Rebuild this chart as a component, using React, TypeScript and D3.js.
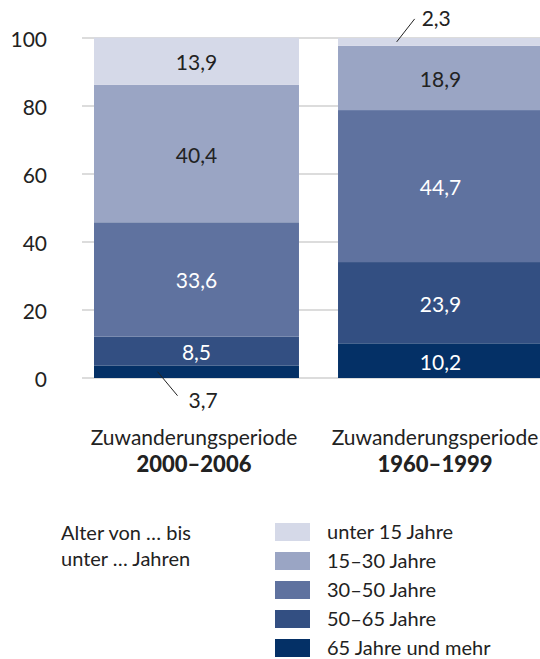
import React from "react";
import * as d3 from "d3";

const periods = ["2000–2006", "1960–1999"];
const ageGroups = ["65 Jahre und mehr", "50–65 Jahre", "30–50 Jahre", "15–30 Jahre", "unter 15 Jahre"];
// values per period, bottom to top (65+, 50-65, 30-50, 15-30, <15)
const values2000 = [3.7, 8.5, 33.6, 40.4, 13.9];
const values1960 = [10.2, 23.9, 44.7, 18.9, 2.3];
const colors = ["#043066", "#334f82", "#5f729f", "#9aa5c4", "#d5d9e8"];
const textColors = ["#fff", "#fff", "#fff", "#222", "#222"];
const yTicks = [0, 20, 40, 60, 80, 100];
const legendTitle = ["Alter von … bis", "unter … Jahren"];
const catPrefix = "Zuwanderungsperiode";

const W = 540;
const H = 659;
const FONT = "Lato, sans-serif";

export default function App() {
  const data = [values2000, values1960];
  const x = d3.scaleBand<string>().domain(periods).range([94, 543]).paddingInner(0.16).paddingOuter(0);
  const y = d3.scaleLinear().domain([0, 100]).range([378, 38]);
  const stacks = data.map((vals) => {
    let acc = 0;
    return vals.map((v) => {
      const s = { y0: acc, y1: acc + v, v };
      acc += v;
      return s;
    });
  });
  const fmt = (v: number) => v.toFixed(1).replace(".", ",");
  const bw = x.bandwidth();

  return (
    <svg width={W} height={H} style={{ position: "absolute", left: 0, top: 0 }} fontFamily={FONT}>
      <rect width={W} height={H} fill="#fff" />
      {yTicks.map((t) => (
        <g key={t}>
          <line x1={82} x2={W} y1={y(t)} y2={y(t)} stroke="#dcdcdc" strokeWidth={2} />
          <text x={47} y={y(t) + 9} textAnchor="end" fontSize={21} fill="#222">
            {t}
          </text>
        </g>
      ))}
      {periods.map((p, i) => {
        const x0 = x(p) as number;
        const labelX = Math.min(x0 + bw / 2 - 2.5, W - 105);
        return (
          <g key={p}>
            {stacks[i].map((s, j) => (
              <rect
                key={j}
                x={x0}
                width={bw}
                y={y(s.y1)}
                height={y(s.y0) - y(s.y1)}
                fill={colors[j]}
              />
            ))}
            {stacks[i].map((s, j) => {
              const cy = y((s.y0 + s.y1) / 2);
              if (s.v < 5) {
                const up = s.y0 > 50;
                const lx = x0 + bw * (up ? 0.286 : 0.31);
                const dx = up ? 18 : 20;
                const dy = up ? -23 : 24;
                return (
                  <g key={"l" + j}>
                    <line x1={lx} y1={cy} x2={lx + dx} y2={cy + dy} stroke="#222" strokeWidth={1} />
                    <text x={lx + dx + (up ? 7 : 11)} y={up ? cy + dy + 7 : cy + dy + 12} fontSize={21} fill="#222">
                      {fmt(s.v)}
                    </text>
                  </g>
                );
              }
              return (
                <text key={"t" + j} x={x0 + bw / 2} y={cy + 9} textAnchor="middle" fontSize={21} fill={textColors[j]}>
                  {fmt(s.v)}
                </text>
              );
            })}
            <text x={labelX} y={444.5} textAnchor="middle" fontSize={21} fill="#222">
              {catPrefix}
            </text>
            <text x={labelX} y={471.5} textAnchor="middle" fontSize={22} fontWeight={900} fill="#222">
              {p}
            </text>
          </g>
        );
      })}
      {legendTitle.map((l, i) => (
        <text key={l} x={61} y={540 + i * 26} fontSize={20} fill="#222">
          {l}
        </text>
      ))}
      {ageGroups
        .slice()
        .reverse()
        .map((g, i) => {
          const ci = ageGroups.length - 1 - i;
          return (
            <g key={g} transform={`translate(275, ${523 + i * 29})`}>
              <rect width={35} height={18} fill={colors[ci]} />
              <text x={52} y={16} fontSize={20} fill="#222">
                {g}
              </text>
            </g>
          );
        })}
    </svg>
  );
}
